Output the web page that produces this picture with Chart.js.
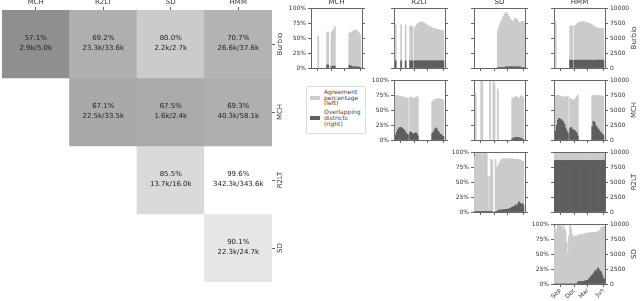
<!DOCTYPE html>
<html lang="en">
<head>
<meta charset="UTF-8">
<title>Agreement between sources</title>
<script src="https://cdn.jsdelivr.net/npm/chart.js"></script>
<style>
  body { margin: 0; width: 640px; height: 301px; position: relative; overflow: hidden; background: #fff; font-family: "DejaVu Sans", sans-serif; }
  canvas { position: absolute; }
  #legend { position: absolute; left: 306px; top: 86px; width: 60px; height: 48px; box-sizing: border-box;
            border: 1px solid #ddd; border-radius: 2px; font-size: 6px; line-height: 5.7px; color: #444; padding-top: 2px; }
  #legend .item { display: flex; align-items: center; margin-bottom: 3px; }
  #legend .sw { width: 10px; height: 4px; margin: 0 4px 0 3px; flex: none; }
</style>
</head>
<body>
<div id="legend">
  <div class="item"><span class="sw" style="background:#cbcbcb"></span><span>Agreement<br>percentage<br>(left)</span></div>
  <div class="item"><span class="sw" style="background:#5e5e5e"></span><span>Overlapping<br>districts<br>(right)</span></div>
</div>
<script>
// heatmap: rows are the reference source, columns the compared source
const methods = ['MCH', 'R2LT', 'SD', 'HMM'];
const rowNames = ['Burbio', 'MCH', 'R2LT', 'SD'];
const agreePct = [
  [57.1, 69.2, 80.0, 70.7],
  [null, 67.1, 67.5, 69.3],
  [null, null, 85.5, 99.6],
  [null, null, null, 90.1]
];
const agreeCount = [
  ['2.9k/5.0k', '23.3k/33.6k', '2.2k/2.7k', '26.6k/37.6k'],
  [null, '22.5k/33.5k', '1.6k/2.4k', '40.3k/58.1k'],
  [null, null, '13.7k/16.0k', '342.3k/343.6k'],
  [null, null, null, '22.3k/24.7k']
];

// weekly time series (school year 2020-21)
const weeks = ['Aug 3','Aug 10','Aug 17','Aug 24','Aug 31','Sep 7','Sep 14','Sep 21','Sep 28','Oct 5',
  'Oct 12','Oct 19','Oct 26','Nov 2','Nov 9','Nov 16','Nov 23','Nov 30','Dec 7','Dec 14',
  'Dec 21','Dec 28','Jan 4','Jan 11','Jan 18','Jan 25','Feb 1','Feb 8','Feb 15','Feb 22',
  'Mar 1','Mar 8','Mar 15','Mar 22','Mar 29','Apr 5','Apr 12','Apr 19','Apr 26','May 3',
  'May 10','May 17','May 24','May 31','Jun 7','Jun 14'];
const tickMonths = ['Sep', 'Dec', 'Mar', 'Jun'];
const n = null;

const agrBurbioMch = [n,n,n,n,n,n,53,n,n,n, n,n,n,n,60,60,n,n,59,62, 65,69,n,n,n,n,n,n,n,n, n,n,n,n,58,59,60,61,62,63, 63,62,60,58,56,n];
const ovlBurbioMch = [n,n,n,n,n,n,n,n,n,n, n,n,n,n,500,500,n,n,300,300, 300,300,n,n,n,n,n,n,n,n, n,n,n,n,400,400,300,200,200,200, 200,200,150,150,100,n];
const agrBurbioR2lt = [n,72,n,n,n,n,72,n,n,n, 72,n,n,n,70,70,70,n,66,69, 72,74,75,76,77,77,76,75,73,72, 71,70,69,68,67,66,66,65,65,64, 64,63,63,62,62,n];
const ovlBurbioR2lt = [n,1200,n,n,n,n,1200,n,n,n, 1200,n,n,n,1200,1200,1200,n,1200,1200, 1200,1200,1200,1200,1200,1200,1200,1200,1200,1200, 1200,1200,1200,1200,1200,1200,1200,1200,1200,1200, 1200,1200,1200,1200,1200,n];
const agrBurbioSd = [n,n,n,n,n,n,n,n,n,n, n,n,n,n,n,n,n,n,n,n, n,62,68,74,78,82,86,90,93,92, 89,86,82,80,78,78,82,83,81,79, 76,75,77,78,77,77];
const ovlBurbioSd = [n,n,n,n,n,n,n,n,n,n, n,n,n,n,n,n,n,n,n,n, n,100,100,100,100,100,100,100,200,200, 200,200,200,200,200,200,200,200,200,200, 200,200,100,100,100,100];
const agrBurbioHmm = [n,77,n,n,n,n,n,n,n,n, n,n,n,n,70,70,70,n,70,71, 73,75,76,76,77,77,77,77,76,76, 75,75,74,73,72,71,69,68,67,66, 66,66,66,66,66,n];
const ovlBurbioHmm = [n,n,n,n,n,n,n,n,n,n, n,n,n,n,1300,1300,1300,n,1300,1300, 1300,1300,1300,1300,1300,1300,1300,1300,1300,1300, 1300,1300,1300,1300,1300,1300,1300,1300,1300,1300, 1300,1300,1300,1300,1300,n];

const agrMchR2lt = [n,75,74,74,73,73,72,72,72,71, 71,70,70,n,72,71,70,70,70,71, 72,72,n,n,n,n,n,n,n,n, n,n,n,n,64,65,67,68,69,68, 69,69,68,67,67,n];
const ovlMchR2lt = [n,800,1300,1700,2000,2100,2100,1900,1800,1600, 1300,1000,900,n,1300,1300,1100,1000,1100,1200, 1100,700,n,n,n,n,n,n,n,n, n,n,n,n,1100,1300,1700,2000,1900,1500, 1300,1000,900,700,600,n];
const agrMchSd = [n,77,n,n,n,n,100,100,n,n, n,n,n,n,100,n,n,100,95,n, n,85,n,n,n,n,n,n,n,n, n,n,n,n,70,69,71,73,72,70, 69,71,74,73,70,n];
const ovlMchSd = [n,n,n,n,n,n,n,n,n,n, n,n,n,n,n,n,n,n,n,n, n,n,n,n,n,n,n,n,n,n, n,n,n,n,200,300,400,400,400,400, 400,300,300,200,100,n];
const agrMchHmm = [n,74,74,75,74,73,73,72,72,72, 71,72,73,n,69,68,67,66,67,69, 72,75,n,n,n,n,n,n,n,n, n,n,n,n,74,75,74,74,75,74, 74,73,74,73,72,n];
const ovlMchHmm = [n,1500,2500,3300,3600,3500,3400,3200,3000,2600, 2000,1500,1200,n,2000,2100,1800,1700,1600,1400, 1200,700,n,n,n,n,n,n,n,n, n,n,n,n,2200,3100,3000,2500,2200,1900, 1700,1400,1200,1000,800,n];

const agrR2ltSd = [92,95,100,100,96,100,100,93,100,100, 100,97,60,5,60,88,86,n,n,88, 74,76,80,84,87,89,88,89,89,88, 88,89,88,88,89,88,88,87,88,88, 87,87,86,85,84,n];
const ovlR2ltSd = [100,100,100,100,100,100,100,100,100,100, 100,100,100,100,100,100,100,n,n,100, 100,200,300,300,300,350,400,400,400,450, 500,500,600,700,800,900,900,1200,1000,1300, 1700,1500,1300,1400,1200,n];
const agrR2ltHmm = [99.6,99.6,99.6,99.6,99.6,99.6,99.6,99.6,99.6,99.6, 99.6,99.6,99.6,99.6,99.6,99.6,99.6,99.6,99.6,99.6, 99.6,99.6,99.6,99.6,99.6,99.6,99.6,99.6,99.6,99.6, 99.6,99.6,99.6,99.6,99.6,99.6,99.6,99.6,99.6,99.6, 99.6,99.6,99.6,99.6,99.6,99.6];
const ovlR2ltHmm = [8600,8600,8600,8600,8600,8600,8600,8600,8600,8600, 8600,8600,8600,8600,8600,8600,8600,8600,8600,8600, 8600,8600,8600,8600,8600,8600,8600,8600,8600,8600, 8600,8600,8600,8600,8600,8600,8600,8600,8600,8600, 8600,8600,8600,8600,8600,8600];

const agrSdHmm = [95,92,86,98,100,100,96,88,100,92, 88,70,50,80,98,92,82,80,80,79, 80,81,82,82,83,82,83,84,84,85, 84,85,86,85,86,86,85,86,87,87, 88,90,94,95,96,96];
const ovlSdHmm = [0,0,0,0,0,0,0,0,0,0, 0,0,0,0,0,0,0,0,0,0, 0,300,400,400,400,400,400,500,500,600, 600,900,1000,1300,1500,1700,2000,2300,2100,2700, 2400,2200,2000,1500,1000,800];

const panels = [
  { row: 0, col: 0, agr: agrBurbioMch, ovl: ovlBurbioMch },
  { row: 0, col: 1, agr: agrBurbioR2lt, ovl: ovlBurbioR2lt },
  { row: 0, col: 2, agr: agrBurbioSd, ovl: ovlBurbioSd },
  { row: 0, col: 3, agr: agrBurbioHmm, ovl: ovlBurbioHmm },
  { row: 1, col: 1, agr: agrMchR2lt, ovl: ovlMchR2lt },
  { row: 1, col: 2, agr: agrMchSd, ovl: ovlMchSd },
  { row: 1, col: 3, agr: agrMchHmm, ovl: ovlMchHmm },
  { row: 2, col: 2, agr: agrR2ltSd, ovl: ovlR2ltSd },
  { row: 2, col: 3, agr: agrR2ltHmm, ovl: ovlR2ltHmm },
  { row: 3, col: 3, agr: agrSdHmm, ovl: ovlSdHmm }
];

const FONT = '"DejaVu Sans", sans-serif';
const axisColor = '#666';
const textColor = '#333';
const lightFill = '#cbcbcb';
const darkFill = '#5e5e5e';

Chart.defaults.font.family = FONT;
Chart.defaults.color = textColor;
Chart.defaults.animation = false;
Chart.defaults.responsive = false;
Chart.defaults.plugins.legend.display = false;
Chart.defaults.plugins.tooltip.enabled = false;

function addCanvas(left, top, w, h) {
  const c = document.createElement('canvas');
  c.width = w;
  c.height = h;
  c.style.left = left + 'px';
  c.style.top = top + 'px';
  document.body.appendChild(c);
  return c;
}

// grey level goes from dark (low agreement) to white (full agreement)
function cellColor(p) {
  if (p === null) return 'rgba(0,0,0,0)';
  const g = Math.min(255, Math.round(143 + (p - 57.1) * 2.635));
  return `rgb(${g},${g},${g})`;
}

const cellText = {
  id: 'cellText',
  afterDatasetsDraw(chart) {
    const ctx = chart.ctx;
    ctx.save();
    ctx.font = '7px ' + FONT;
    ctx.fillStyle = '#222';
    ctx.textAlign = 'center';
    ctx.textBaseline = 'middle';
    chart.data.datasets.forEach((ds, r) => {
      chart.getDatasetMeta(r).data.forEach((bar, c) => {
        if (agreePct[r][c] === null) return;
        const cy = (bar.y + bar.base) / 2;
        ctx.fillText(agreePct[r][c].toFixed(1) + '%', bar.x, cy - 6);
        ctx.fillText(agreeCount[r][c], bar.x, cy + 4.5);
      });
    });
    // row names, rotated, next to the right ticks
    const rows = chart.scales.rows;
    ctx.font = '7px ' + FONT;
    ctx.fillStyle = textColor;
    rowNames.forEach((name, i) => {
      ctx.save();
      ctx.translate(chart.chartArea.right + 8, rows.getPixelForTick(i));
      ctx.rotate(-Math.PI / 2);
      ctx.fillText(name, 0, 0);
      ctx.restore();
    });
    ctx.restore();
  }
};

const heatCanvas = addCanvas(0, 0, 300, 301);
new Chart(heatCanvas, {
  type: 'bar',
  data: {
    labels: methods,
    datasets: rowNames.map((name, r) => ({
      label: name,
      data: agreePct[r].map(p => (p === null ? null : [r, r + 1])),
      backgroundColor: agreePct[r].map(cellColor),
      borderWidth: 0,
      grouped: false,
      barPercentage: 1,
      categoryPercentage: 1
    }))
  },
  options: {
    layout: { padding: { left: 2, top: 0, right: 0, bottom: 19 } },
    scales: {
      x: {
        position: 'top',
        grid: { drawOnChartArea: false, offset: false, tickLength: 3, color: axisColor },
        border: { display: false },
        ticks: { font: { size: 7 }, padding: 1, color: textColor },
        afterFit: s => { s.height = 10; }
      },
      y: { display: false, min: 0, max: 4, reverse: true },
      rows: {
        type: 'category',
        labels: rowNames,
        position: 'right',
        offset: true,
        grid: { drawOnChartArea: false, offset: false, tickLength: 3, color: axisColor },
        border: { display: false },
        ticks: { display: false },
        afterFit: s => { s.width = 28; }
      }
    }
  },
  plugins: [cellText]
});

// small panels
const colLeft = [311, 394, 474, 554];
const rowTop = [8, 80, 152, 224];
const plotW = 51, plotH = 60, padL = 40, padR = 40, padT = 10, padB = 30;
const tickIdx = tickMonths.map(m => weeks.findIndex(w => w.startsWith(m)));

const panelText = {
  id: 'panelText',
  afterDraw(chart, args, opts) {
    const { ctx, chartArea: a } = chart;
    ctx.save();
    ctx.strokeStyle = axisColor;
    ctx.lineWidth = 1;
    ctx.beginPath();
    ctx.moveTo(a.left, a.top + 0.5);
    ctx.lineTo(a.right, a.top + 0.5);
    ctx.stroke();
    ctx.fillStyle = textColor;
    ctx.font = '7px ' + FONT;
    if (opts.title) {
      ctx.textAlign = 'center';
      ctx.textBaseline = 'bottom';
      ctx.fillText(opts.title, (a.left + a.right) / 2, a.top - 2);
    }
    if (opts.rowLabel) {
      ctx.translate(a.right + 29, (a.top + a.bottom) / 2);
      ctx.rotate(-Math.PI / 2);
      ctx.textAlign = 'center';
      ctx.textBaseline = 'middle';
      ctx.fillText(opts.rowLabel, 0, 0);
    }
    ctx.restore();
  }
};

function makePanel(p) {
  const canvas = addCanvas(colLeft[p.col] - padL, rowTop[p.row] - padT,
    plotW + padL + padR, plotH + padT + padB);
  const barOpts = { borderWidth: 0, grouped: false, barPercentage: 1, categoryPercentage: 1 };
  new Chart(canvas, {
    type: 'bar',
    data: {
      labels: weeks,
      datasets: [
        Object.assign({ label: 'Overlapping districts (right)', data: p.ovl, yAxisID: 'y1',
          backgroundColor: darkFill, order: 0 }, barOpts),
        Object.assign({ label: 'Agreement percentage (left)', data: p.agr, yAxisID: 'y',
          backgroundColor: lightFill, order: 1 }, barOpts)
      ]
    },
    options: {
      layout: { padding: { top: padT, left: 0, right: 0, bottom: 0 } },
      scales: {
        x: {
          offset: true,
          grid: { drawOnChartArea: false, offset: false, tickLength: 3, color: axisColor },
          border: { color: axisColor },
          afterBuildTicks: s => { s.ticks = tickIdx.map(v => ({ value: v })); },
          ticks: {
            display: p.row === 3, autoSkip: false, minRotation: 45, maxRotation: 45,
            font: { size: 6 }, padding: 0, color: textColor,
            callback: v => weeks[v].slice(0, 3)
          },
          afterFit: s => { s.height = padB; }
        },
        y: {
          position: 'left', min: 0, max: 100,
          grid: { drawOnChartArea: false, tickLength: 3, color: axisColor },
          border: { color: axisColor },
          ticks: { display: p.col === p.row, stepSize: 25, font: { size: 6 }, padding: 2,
            color: textColor, callback: v => v + '%' },
          afterFit: s => { s.width = padL; }
        },
        y1: {
          position: 'right', min: 0, max: 10000,
          grid: { drawOnChartArea: false, tickLength: 3, color: axisColor },
          border: { color: axisColor },
          ticks: { display: p.col === 3, stepSize: 2500, font: { size: 6 }, padding: 2,
            color: textColor, callback: v => String(v) },
          afterFit: s => { s.width = padR; }
        }
      },
      plugins: {
        panelText: {
          title: p.row === 0 ? methods[p.col] : '',
          rowLabel: p.col === 3 ? rowNames[p.row] : ''
        }
      }
    },
    plugins: [panelText]
  });
}

panels.forEach(makePanel);
</script>
</body>
</html>
